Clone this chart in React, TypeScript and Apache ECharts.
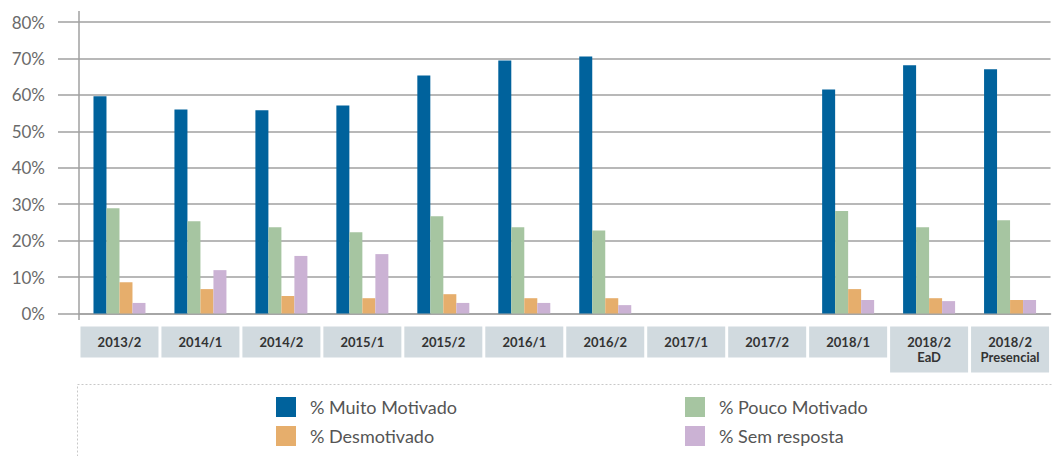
import React, { useEffect, useRef } from "react";
import * as echarts from "echarts";

const categories = [
  "2013/2", "2014/1", "2014/2", "2015/1", "2015/2", "2016/1", "2016/2",
  "2017/1", "2017/2", "2018/1", "2018/2\nEaD", "2018/2\nPresencial",
];
const muitoMotivado = [59.6, 56.0, 55.8, 57.1, 65.3, 69.4, 70.5, null, null, 61.5, 68.1, 67.0];
const poucoMotivado = [28.9, 25.3, 23.7, 22.3, 26.7, 23.7, 22.8, null, null, 28.1, 23.7, 25.6];
const desmotivado = [8.6, 6.7, 4.8, 4.2, 5.3, 4.2, 4.2, null, null, 6.7, 4.2, 3.7];
const semResposta = [2.9, 11.9, 15.8, 16.3, 2.9, 2.9, 2.3, null, null, 3.7, 3.4, 3.7];
const yTicks = [0, 10, 20, 30, 40, 50, 60, 70, 80];

const seriesNames = ["% Muito Motivado", "% Pouco Motivado", "% Desmotivado", "% Sem resposta"];
const seriesColors = ["#00629c", "#a6c5a1", "#e6ae6c", "#cbb2d4"];
const seriesData = [muitoMotivado, poucoMotivado, desmotivado, semResposta];

const FONT = "Lato, 'Noto Sans', sans-serif";

export default function App() {
  const ref = useRef<HTMLDivElement>(null);
  useEffect(() => {
    document.body.style.margin = "0";
    if (!ref.current) return;
    const chart = echarts.init(ref.current, undefined, { renderer: "svg" });
    chart.setOption({
      animation: false,
      grid: { left: 79, right: 0, top: 22, bottom: 456 - 313.5 },
      xAxis: {
        type: "category",
        data: categories,
        axisLine: { show: true, lineStyle: { color: "#a0a0a0", width: 1.5 } },
        axisTick: { show: false },
        axisLabel: {
          interval: 0,
          margin: 13,
          color: "#333",
          fontFamily: FONT,
          fontWeight: "bold",
          fontSize: 13,
          lineHeight: 15,
          backgroundColor: "#d1dadf",
          width: 78,
          padding: [8, 0, 8, 0],
          align: "center",
          verticalAlign: "top",
        },
      },
      yAxis: {
        type: "value",
        min: 0,
        max: 80,
        interval: 10,
        axisLine: { show: false },
        axisTick: { show: true, length: 21, lineStyle: { color: "#a0a0a0", width: 1.5 } },
        splitLine: { lineStyle: { color: "#a0a0a0", width: 1.5 } },
        axisLabel: {
          margin: 34,
          color: "#6a6a6a",
          fontFamily: FONT,
          fontSize: 17,
          formatter: (v: number) => (yTicks.includes(v) ? `${v}%` : ""),
        },
      },
      legend: [
        {
          data: [seriesNames[0], seriesNames[2]],
          orient: "vertical",
          left: 271,
          top: 392,
          icon: "rect",
          itemWidth: 20,
          itemHeight: 20,
          itemGap: 9,
          textStyle: { color: "#555", fontFamily: FONT, fontSize: 18, padding: [0, 0, 0, 9] },
        },
        {
          data: [seriesNames[1], seriesNames[3]],
          orient: "vertical",
          left: 680,
          top: 392,
          icon: "rect",
          itemWidth: 20,
          itemHeight: 20,
          itemGap: 9,
          textStyle: { color: "#555", fontFamily: FONT, fontSize: 18, padding: [0, 0, 0, 9] },
        },
      ],
      graphic: [
        {
          type: "rect",
          shape: { x: 77.5, y: 384.5, width: 1100, height: 200 },
          style: { fill: "none", stroke: "#c8c8c8", lineWidth: 1, lineDash: [2, 2] },
          silent: true,
        },
        {
          type: "line",
          shape: { x1: 79, y1: 11, x2: 79, y2: 320 },
          style: { stroke: "#a0a0a0", lineWidth: 1.5 },
          silent: true,
          z: 10,
        },
      ],
      series: seriesNames.map((name, i) => ({
        name,
        type: "bar",
        data: seriesData[i],
        itemStyle: { color: seriesColors[i] },
        barWidth: 13,
        barGap: "0%",
        barCategoryGap: "36%",
      })),
    });
    return () => chart.dispose();
  }, []);
  return <div ref={ref} style={{ width: 1052, height: 456 }} />;
}
